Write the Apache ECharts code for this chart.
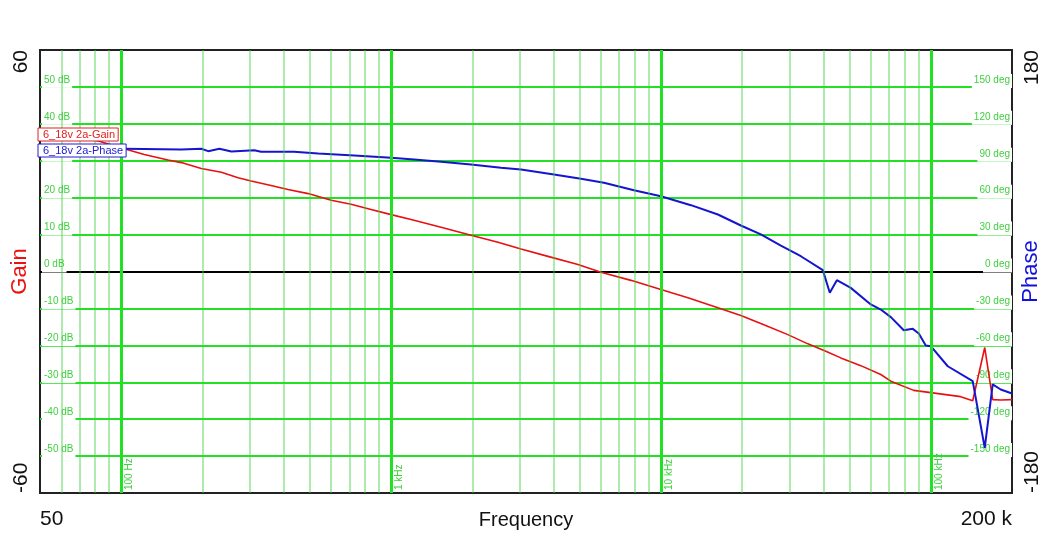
<!DOCTYPE html>
<html>
<head>
<meta charset="utf-8">
<script src="https://cdn.jsdelivr.net/npm/echarts@6/dist/echarts.min.js"></script>
<style>
html,body{margin:0;padding:0;background:#fff;}
#chart{width:1050px;height:545px;}
</style>
</head>
<body>
<div id="chart"></div>
<script>
// ---- data (Hz, dB / deg) ----
const gainFreq = [50, 65.3, 82.9, 102.6, 121.7, 149, 167, 198, 235, 271, 303, 359, 415, 493, 600, 711, 822, 1000, 1186, 1532, 1978, 2490, 3030, 3815, 4927, 5995, 7743, 10000, 12590, 16260, 19780, 24070, 29540, 35040, 40840, 46420, 55040, 65280, 71130, 86500, 100000, 129150, 143050, 158490, 169650, 181650, 200000];
const gainDb = [38, 36.8, 35.3, 33.25, 31.7, 30.2, 29.5, 27.9, 26.9, 25.4, 24.5, 23.3, 22.2, 21.1, 19.3, 18.2, 17, 15.4, 14.1, 12, 9.8, 7.9, 6.1, 4.1, 1.9, -0.2, -2.4, -4.9, -7.1, -9.8, -11.9, -14.4, -17.1, -19.6, -21.6, -23.4, -25.5, -27.9, -29.7, -32.2, -32.8, -33.9, -35, -20.6, -34.7, -34.8, -34.7];

const phaseFreq = [50, 102.6, 167, 198, 210, 231, 256, 311, 330, 437, 537, 730, 1000, 1217, 1532, 1978, 2555, 3030, 4015, 5053, 6150, 7943, 10000, 12920, 16260, 19780, 23460, 27830, 33000, 39810, 42250, 44870, 50530, 59950, 65280, 71130, 79430, 85770, 90280, 95830, 100000, 115600, 143050, 158490, 169650, 181650, 200000];
const phaseDeg = [100, 99.7, 99.1, 99.7, 97.8, 99.7, 97.5, 98.6, 97.3, 97.3, 95.9, 94.3, 92.4, 91, 89.1, 86.9, 84.3, 82.9, 78.8, 75.3, 72.1, 66.1, 61.2, 53.9, 46.3, 37.4, 30.1, 21.1, 12.4, 1.1, -17.3, -7.1, -13.3, -26.8, -30.9, -37.1, -47.7, -46.6, -50.4, -60.1, -60.7, -77, -89.1, -143.3, -91.8, -95.9, -99.1];

const minorFreqs = [60, 70, 80, 90, 200, 300, 400, 500, 600, 700, 800, 900, 2000, 3000, 4000, 5000, 6000, 7000, 8000, 9000, 20000, 30000, 40000, 50000, 60000, 70000, 80000, 90000];
const decadeFreqs = [100, 1000, 10000, 100000];
const decadeLabels = ['100 Hz', '1 kHz', '10 kHz', '100 kHz'];
const xEndLabels = {min: '50', max: '200 k'};
const gainRange = [-60, 60];
const phaseRange = [-180, 180];
const seriesNames = ['6_18v 2a-Gain', '6_18v 2a-Phase'];

const FONT = 'Liberation Sans, Arial, sans-serif';
const GREEN = '#22e022';
const GREEN_TXT = '#3fd03f';
const MINOR = 'rgba(60,210,60,0.55)';

const gainData = gainFreq.map((f, i) => [f, gainDb[i]]);
const phaseData = phaseFreq.map((f, i) => [f, phaseDeg[i]]);

// split line colours: transparent at ends, black at zero
const hColors = [];
for (let v = gainRange[0]; v <= gainRange[1]; v += 10) {
  hColors.push(v === gainRange[0] || v === gainRange[1] ? 'rgba(0,0,0,0)' : (v === 0 ? '#000' : GREEN));
}

const innerRich = {
  t: {fontSize: 10, fontFamily: FONT, color: GREEN_TXT, backgroundColor: '#fff', padding: [1, 2, 3, 2], lineHeight: 11, verticalAlign: 'top'},
  s: {fontSize: 1, lineHeight: 26, width: 0}
};

const vLines = [];
minorFreqs.forEach(f => vLines.push({xAxis: f, lineStyle: {color: MINOR, width: 1.5, type: 'solid'}, label: {show: false}}));
decadeFreqs.forEach((f, i) => vLines.push({
  xAxis: f,
  lineStyle: {color: GREEN, width: 3, type: 'solid'},
  label: {show: true, formatter: decadeLabels[i], position: 'insideStartBottom', color: GREEN_TXT, fontSize: 10, fontFamily: FONT, distance: 3}
}));

const chart = echarts.init(document.getElementById('chart'), null, {renderer: 'canvas'});
chart.setOption({
  animation: false,
  backgroundColor: '#fff',
  textStyle: {fontFamily: FONT},
  grid: {left: 40, right: 38, top: 50, bottom: 52, show: true, borderColor: '#222', borderWidth: 2, backgroundColor: '#fff',
    containLabel: false, outerBoundsMode: 'none'},
  legend: [
    {data: [seriesNames[0]], left: 38, top: 128, icon: 'none', itemWidth: 0, itemHeight: 0, itemGap: 0, padding: [1, 3, 1, 0],
      borderColor: '#e02020', borderWidth: 1, backgroundColor: '#fff', selectedMode: false, z: 10,
      textStyle: {color: '#e02020', fontSize: 11, fontFamily: FONT}},
    {data: [seriesNames[1]], left: 38, top: 144, icon: 'none', itemWidth: 0, itemHeight: 0, itemGap: 0, padding: [1, 3, 1, 0],
      borderColor: '#2020d0', borderWidth: 1, backgroundColor: '#fff', selectedMode: false, z: 10,
      textStyle: {color: '#2020d0', fontSize: 11, fontFamily: FONT}}
  ],
  xAxis: {
    type: 'log', logBase: 10, min: 50, max: 200000,
    axisLine: {show: false}, axisTick: {show: false}, splitLine: {show: false},
    axisLabel: {
      show: true, showMinLabel: true, showMaxLabel: true, margin: 16, fontSize: 21, color: '#111', fontFamily: FONT,
      alignMinLabel: 'left', alignMaxLabel: 'right',
      formatter: v => (Math.abs(v - 50) < 1 ? xEndLabels.min : (Math.abs(v - 200000) < 10 ? xEndLabels.max : ''))
    },
    name: 'Frequency', nameLocation: 'middle', nameGap: 17, nameMoveOverlap: false,
    nameTextStyle: {fontSize: 20, color: '#111', fontFamily: FONT, verticalAlign: 'top'}
  },
  yAxis: [
    { // left gain grid + inner labels
      type: 'value', position: 'left', min: gainRange[0], max: gainRange[1], interval: 10, z: 2,
      axisLine: {show: false}, axisTick: {show: false},
      splitLine: {show: true, lineStyle: {color: hColors, width: 2}},
      axisLabel: {show: true, inside: true, margin: 2, align: 'left',
        formatter: v => (v === gainRange[0] || v === gainRange[1]) ? '' : '{t|' + v + ' dB}{s| }',
        rich: innerRich}
    },
    { // right phase inner labels
      type: 'value', position: 'right', min: phaseRange[0], max: phaseRange[1], interval: 30, z: 2,
      axisLine: {show: false}, axisTick: {show: false}, splitLine: {show: false},
      axisLabel: {show: true, inside: true, margin: 0, align: 'right',
        formatter: v => (v === phaseRange[0] || v === phaseRange[1]) ? '' : '{t|' + v + ' deg}{s| }',
        rich: innerRich}
    },
    { // left outer labels + name
      type: 'value', position: 'left', min: gainRange[0], max: gainRange[1], interval: 10,
      axisLine: {show: false}, axisTick: {show: false}, splitLine: {show: false},
      axisLabel: {show: true, showMinLabel: true, showMaxLabel: true, rotate: 90, margin: 8, fontSize: 21, color: '#111', fontFamily: FONT,
        alignMinLabel: 'left', alignMaxLabel: 'right',
        formatter: v => (v === gainRange[0] || v === gainRange[1]) ? String(v) : ''},
      name: 'Gain', nameLocation: 'middle', nameRotate: 90, nameGap: 9, nameMoveOverlap: false,
      nameTextStyle: {fontSize: 22, color: '#ee1111', fontFamily: FONT}
    },
    { // right outer labels + name
      type: 'value', position: 'right', min: phaseRange[0], max: phaseRange[1], interval: 30,
      axisLine: {show: false}, axisTick: {show: false}, splitLine: {show: false},
      axisLabel: {show: true, showMinLabel: true, showMaxLabel: true, rotate: 90, margin: 10, fontSize: 21, color: '#111', fontFamily: FONT,
        alignMinLabel: 'left', alignMaxLabel: 'right',
        formatter: v => (v === phaseRange[0] || v === phaseRange[1]) ? String(v) : ''},
      name: 'Phase', nameLocation: 'middle', nameRotate: 90, nameGap: 8, nameMoveOverlap: false,
      nameTextStyle: {fontSize: 22, color: '#1111dd', fontFamily: FONT}
    }
  ],
  series: [
    {
      name: 'gridlines', type: 'line', xAxisIndex: 0, yAxisIndex: 0, data: [], z: 1, silent: true,
      markLine: {silent: true, symbol: ['none', 'none'], animation: false, data: vLines}
    },
    {
      name: seriesNames[0], type: 'line', xAxisIndex: 0, yAxisIndex: 0, data: gainData, z: 3,
      showSymbol: false, symbol: 'none', color: '#e81010', lineStyle: {color: '#e81010', width: 1.6}
    },
    {
      name: seriesNames[1], type: 'line', xAxisIndex: 0, yAxisIndex: 1, data: phaseData, z: 4,
      showSymbol: false, symbol: 'none', color: '#1515d0', lineStyle: {color: '#1515d0', width: 2}
    }
  ]
});
</script>
</body>
</html>
